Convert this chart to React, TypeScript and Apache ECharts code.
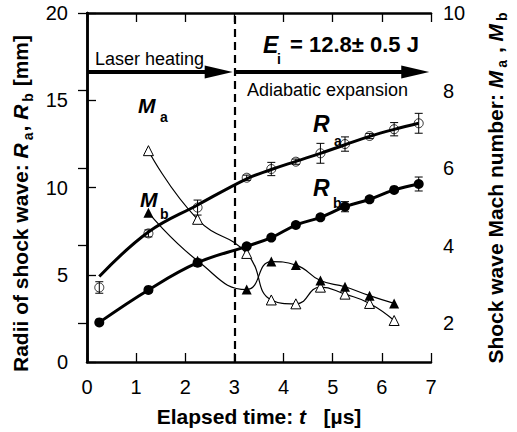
import { useEffect, useRef } from 'react';
import * as echarts from 'echarts';

const times = [0.25, 1.25, 2.25, 3.25, 3.75, 4.25, 4.75, 5.25, 5.75, 6.25, 6.75];
const raValues = [4.27, 7.37, 8.85, 10.56, 11.06, 11.48, 11.96, 12.49, 12.95, 13.34, 13.68];
const raErrors = [0.33, 0.2, 0.43, 0.15, 0.38, 0.15, 0.57, 0.41, 0.15, 0.38, 0.57];
const raFit = [4.9, 7.45, 9.0, 10.5, 11.03, 11.5, 11.96, 12.45, 12.93, 13.33, 13.68];
const rbValues = [2.27, 4.13, 5.69, 6.63, 7.13, 7.85, 8.29, 8.9, 9.32, 9.86, 10.2];
const rbErrors = [0.12, 0.12, 0.2, 0.12, 0.12, 0.15, 0.15, 0.29, 0.15, 0.15, 0.4];
const machTimes = [1.25, 2.25, 3.25, 3.75, 4.25, 4.75, 5.25, 5.75, 6.25];
const maValues = [6.45, 4.68, 3.8, 2.6, 2.5, 2.93, 2.75, 2.51, 2.07];
const mbValues = [4.85, 3.61, 2.87, 3.59, 3.5, 3.1, 2.94, 2.71, 2.51];
const machTicks = [2, 4, 6, 8, 10];
const phaseBoundary = 3;
const arrowLevel = 16.62;
const arrow1End = 2.68;
const arrow2End = 6.68;

const FONT = 'Liberation Sans, Arial, Helvetica, sans-serif';

export default function App() {
  const ref = useRef<HTMLDivElement>(null);
  useEffect(() => {
    if (!ref.current) return;
    const chart = echarts.init(ref.current, null, { renderer: 'svg' });

    const pair = (xs: number[], ys: number[]) => xs.map((x, i) => [x, ys[i]]);
    const errData = (vals: number[], errs: number[]) =>
      times.map((t, i) => [t, vals[i] - errs[i], vals[i] + errs[i]]);

    const errRender = (params: any, api: any) => {
      const x = api.value(0);
      const lo = api.coord([x, api.value(1)]);
      const hi = api.coord([x, api.value(2)]);
      const w = 4;
      const st = { stroke: '#000', lineWidth: 1 };
      return {
        type: 'group',
        children: [
          { type: 'line', shape: { x1: lo[0], y1: lo[1], x2: hi[0], y2: hi[1] }, style: st },
          { type: 'line', shape: { x1: lo[0] - w, y1: lo[1], x2: lo[0] + w, y2: lo[1] }, style: st },
          { type: 'line', shape: { x1: hi[0] - w, y1: hi[1], x2: hi[0] + w, y2: hi[1] }, style: st },
        ],
      };
    };

    const axisCommon = {
      axisLine: { show: true, lineStyle: { color: '#000', width: 2.5 } },
      axisTick: { show: true, inside: true, length: 9, lineStyle: { color: '#000', width: 1.3 } },
      splitLine: { show: false },
    };
    const labelStyle = { color: '#000', fontSize: 20, fontFamily: FONT };
    const nameRich = {
      n: { fontSize: 21, fontWeight: 'bold', fontFamily: FONT, color: '#000', lineHeight: 28 },
      r: { fontSize: 21, fontWeight: 'bold', fontStyle: 'italic', fontFamily: FONT, color: '#000', lineHeight: 28 },
      s: { fontSize: 14, fontWeight: 'bold', fontFamily: FONT, color: '#000', lineHeight: 6, verticalAlign: 'bottom', padding: [0, 1, 0, 3] },
    };

    const txt = (x: number, y: number, text: string, size: number, bold: boolean, italic = false) => ({
      type: 'text',
      x,
      y,
      z: 100,
      style: {
        text,
        fill: '#000',
        fontSize: size,
        fontWeight: bold ? 'bold' : 'normal',
        fontStyle: italic ? 'italic' : 'normal',
        fontFamily: FONT,
        align: 'left',
        textAlign: 'left',
        verticalAlign: 'middle',
        textVerticalAlign: 'middle',
      },
    });

    chart.setOption({
      animation: false,
      backgroundColor: '#fff',
      grid: { left: 87, right: 80, top: 13, bottom: 70, containLabel: false },
      xAxis: [
        {
          type: 'value',
          position: 'bottom',
          min: 0,
          max: 7,
          interval: 1,
          ...axisCommon,
          axisLabel: { ...labelStyle, margin: 15 },
          name: '{n|Elapsed time: }{r|t}{n|   [µs]}',
          nameLocation: 'middle',
          nameGap: 40,
          nameTextStyle: { rich: nameRich },
        },
        {
          type: 'value',
          position: 'top',
          min: 0,
          max: 7,
          interval: 1,
          ...axisCommon,
          axisLabel: { show: false },
        },
      ],
      yAxis: [
        {
          type: 'value',
          position: 'left',
          min: 0,
          max: 20,
          interval: 5,
          ...axisCommon,
          axisLabel: { ...labelStyle, margin: 19 },
          name: '{n|Radii of shock wave: }{r|R}{s|a}{n|, }{r|R}{s|b}{n| [mm]}',
          nameLocation: 'middle',
          nameRotate: 90,
          nameGap: 52,
          nameTextStyle: { rich: nameRich, padding: [0, 32, 0, 0] },
        },
        {
          type: 'value',
          position: 'right',
          min: 1,
          max: 10,
          ...axisCommon,
          axisTick: { ...axisCommon.axisTick, customValues: machTicks },
          axisLabel: { ...labelStyle, margin: 12, customValues: machTicks },
          name: '{n|Shock wave Mach number: }{r|M}{s|a}{n| , }{r|M}{s|b}',
          nameLocation: 'middle',
          nameRotate: 90,
          nameGap: 50,
          nameTextStyle: { rich: nameRich },
        },
      ],
      series: [
        {
          name: 'Ra fit',
          type: 'line',
          data: pair(times, raFit),
          smooth: 0.4,
          symbol: 'none',
          lineStyle: { color: '#000', width: 3 },
          z: 3,
        },
        {
          name: 'Ra',
          type: 'scatter',
          data: pair(times, raValues),
          symbol: 'circle',
          symbolSize: 9,
          itemStyle: { color: 'rgba(255,255,255,0)', borderColor: '#000', borderWidth: 1 },
          z: 5,
          markLine: {
            silent: true,
            animation: false,
            label: { show: false },
            symbol: ['none', 'none'],
            data: [
              [
                { coord: [0, arrowLevel], symbol: 'none' },
                { coord: [arrow1End, arrowLevel], symbol: 'triangle', symbolSize: [13, 28] },
              ],
              [
                { coord: [phaseBoundary, arrowLevel], symbol: 'none' },
                { coord: [arrow2End, arrowLevel], symbol: 'triangle', symbolSize: [13, 28] },
              ],
              { xAxis: phaseBoundary, lineStyle: { type: [8, 5], width: 2.2, color: '#000' } },
            ],
            lineStyle: { color: '#000', width: 4, type: 'solid' },
            itemStyle: { color: '#000' },
          },
        },
        {
          name: 'Ra error',
          type: 'custom',
          coordinateSystem: 'cartesian2d',
          renderItem: errRender,
          encode: { x: 0, y: [1, 2] },
          data: errData(raValues, raErrors),
          z: 6,
        },
        {
          name: 'Rb',
          type: 'line',
          data: pair(times, rbValues),
          smooth: 0.4,
          symbol: 'circle',
          symbolSize: 10,
          itemStyle: { color: '#000' },
          lineStyle: { color: '#000', width: 3 },
          z: 4,
        },
        {
          name: 'Rb error',
          type: 'custom',
          coordinateSystem: 'cartesian2d',
          renderItem: errRender,
          encode: { x: 0, y: [1, 2] },
          data: errData(rbValues, rbErrors),
          z: 6,
        },
        {
          name: 'Ma',
          type: 'line',
          yAxisIndex: 1,
          data: pair(machTimes, maValues),
          smooth: 0.5,
          symbol: 'triangle',
          symbolSize: 10,
          itemStyle: { color: '#fff', borderColor: '#000', borderWidth: 1 },
          lineStyle: { color: '#000', width: 1.2 },
          z: 3,
        },
        {
          name: 'Mb',
          type: 'line',
          yAxisIndex: 1,
          data: pair(machTimes, mbValues),
          smooth: 0.5,
          symbol: 'triangle',
          symbolSize: 10,
          itemStyle: { color: '#000' },
          lineStyle: { color: '#000', width: 1.2 },
          z: 3,
        },
      ],
      graphic: [
        txt(95, 58.5, 'Laser heating', 18, false),
        txt(247, 90, 'Adiabatic expansion', 18, false),
        txt(263, 44.5, 'E', 23, true, true),
        txt(277, 59, 'i', 14, true),
        txt(290, 44.5, '= 12.8± 0.5 J', 22, true),
        txt(138, 105, 'M', 21, true, true),
        txt(160, 117, 'a', 14, true),
        txt(140, 199.5, 'M', 21, true, true),
        txt(160, 214, 'b', 14, true),
        txt(313, 123.5, 'R', 23, true, true),
        txt(334, 140.5, 'a', 14, true),
        txt(313, 187.5, 'R', 23, true, true),
        txt(333, 202.5, 'b', 14, true),
      ],
    });
    return () => chart.dispose();
  }, []);
  return <div ref={ref} style={{ position: 'fixed', left: 0, top: 0, width: 517, height: 432 }} />;
}
